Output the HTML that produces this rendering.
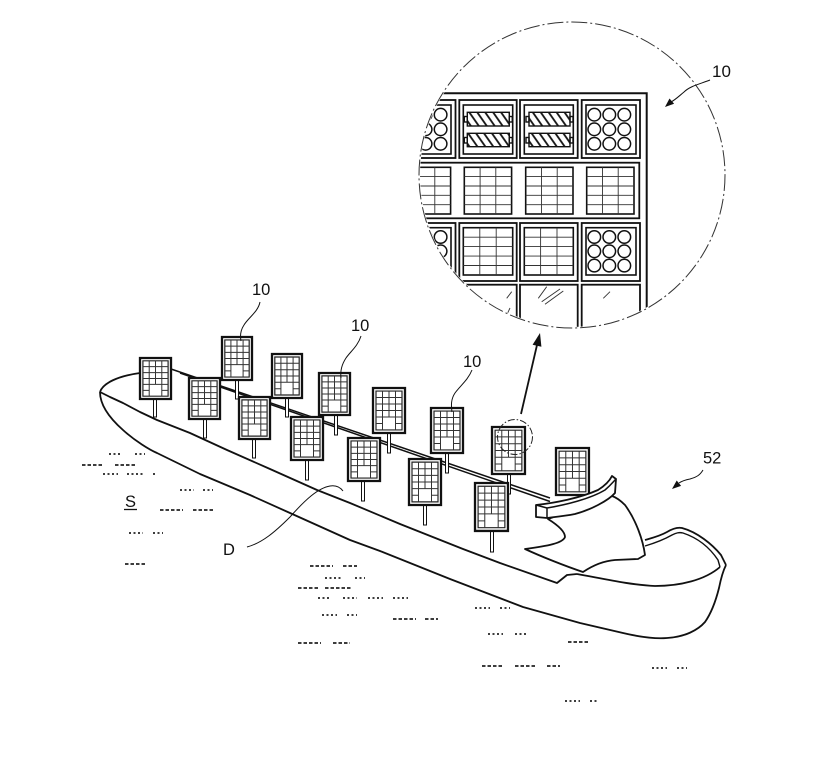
<!DOCTYPE html>
<html><head><meta charset="utf-8"><style>
html,body{margin:0;padding:0;background:#fff;}
svg{display:block;}
text{font-family:"Liberation Sans",sans-serif;fill:#111;}
</style></head><body>
<svg width="831" height="768" viewBox="0 0 831 768" xmlns="http://www.w3.org/2000/svg">
<defs>
<g id="pn">
<rect x="0" y="0" width="32" height="44" fill="#fff" stroke="#111" stroke-width="2.3" vector-effect="non-scaling-stroke"/>
<rect x="3" y="3" width="26" height="38" fill="none" stroke="#222" stroke-width="1.2" vector-effect="non-scaling-stroke"/>
<path d="M9.5,3V41M22.5,3V41M16,3V28.3M3,9.3H29M3,15.7H29M3,22H29M3,28.3H29M3,34.7H9.5M22.5,34.7H29" fill="none" stroke="#333" stroke-width="1" vector-effect="non-scaling-stroke"/>
</g>
<pattern id="hatch" patternUnits="userSpaceOnUse" width="6.5" height="10" patternTransform="rotate(-35)">
<rect width="6.5" height="10" fill="#fff"/>
<line x1="1.5" y1="0" x2="1.5" y2="10" stroke="#111" stroke-width="1.8"/>
</pattern>
<clipPath id="cc"><circle cx="572" cy="175" r="152"/></clipPath>
</defs>
<rect width="831" height="768" fill="#fff"/>

<!-- water marks -->
<g stroke="#222" stroke-width="1.7" fill="none">
<g stroke-dasharray="2 2.5">
<path d="M109,454H122M135,454H145"/>
<path d="M103,474H118M127,474H143M153,474H156"/>
<path d="M180,490H194M203,490H213"/>
<path d="M129,533H143M153,533H163"/>
<path d="M325,578H343M355,578H365"/>
<path d="M318,598H330M343,598H357M368,598H383M393,598H408"/>
<path d="M475,608H490M500,608H510"/>
<path d="M322,615H337M347,615H357"/>
<path d="M488,634H503M515,634H528"/>
<path d="M652,668H667M677,668H687"/>
<path d="M565,701H580M590,701H598"/>
</g>
<g stroke-dasharray="3.5 2">
<path d="M82,465H104M115,465H135"/>
<path d="M160,510H183M193,510H213"/>
<path d="M125,564H147"/>
<path d="M310,566H333M343,566H357"/>
<path d="M298,588H318M325,588H352"/>
<path d="M393,619H416M425,619H438"/>
<path d="M298,643H321M333,643H350"/>
<path d="M568,642H590"/>
<path d="M482,666H503M515,666H536M547,666H560"/>
</g>
</g>

<!-- hull -->
<g fill="none" stroke="#111" stroke-width="1.8" stroke-linejoin="round">
<path d="M100,392 C100,402 106,415 123,430 C135,441 150,450 157,453 L200,474 L250,495 L290,513 L350,540 L380,551 L450,579 L523,607 L580,623 L623,633 C640,637 655,639 667,638 C685,637 698,630 705,622 C712,612 716,600 719,588 C721,578 723,571 726,565"/>
<path d="M100,392 L110,397 L123,403 L140,412 L157,420 L190,433 L227,450 L270,469 L317,490 L350,503 L400,524 L463,549 L500,563 L557,583 L567,575 L577,574"/>
<path d="M100,392 C103,383 118,376 140,373 L171,369"/>
<path d="M171,369 L550,498" stroke-width="1.5"/>
<path d="M180,373 L550,501.5" stroke-width="1.5"/>
<path d="M645,540 C652,538 660,536 667,532 C672,529 677,527 682,528 C697,532 712,544 721,555 L726,565"/>
<path d="M645,546 C655,543 665,539 672,535 C676,533 679,532 683,533 C698,538 710,548 718,560 L720,567" stroke-width="1.4"/>
<path d="M577,574 C600,578 630,585 655,586 C680,586 705,580 720,567"/>
</g>

<!-- panels far side -->
<g stroke="#111" stroke-width="1" fill="#fff">
<rect x="153.5" y="399" width="3" height="18"/>
<rect x="235.5" y="380" width="3" height="19"/>
<rect x="285.5" y="398" width="3" height="19"/>
<rect x="334.5" y="415" width="3" height="20"/>
<rect x="387.5" y="433" width="3" height="20"/>
<rect x="445.5" y="453" width="3" height="20"/>
<rect x="507.5" y="474" width="3" height="20"/>
</g>
<use href="#pn" transform="translate(140,358) scale(0.969,0.932)"/>
<use href="#pn" transform="translate(222,337) scale(0.9375,0.977)"/>
<use href="#pn" transform="translate(272,354) scale(0.9375,1)"/>
<use href="#pn" transform="translate(319,373) scale(0.969,0.955)"/>
<use href="#pn" transform="translate(373,388) scale(1,1.023)"/>
<use href="#pn" transform="translate(431,408) scale(1,1.023)"/>
<use href="#pn" transform="translate(492,427) scale(1.03,1.068)"/>
<use href="#pn" transform="translate(556,448) scale(1.03,1.068)"/>

<!-- panels near side -->
<g stroke="#111" stroke-width="1" fill="#fff">
<rect x="203.5" y="419" width="3" height="19"/>
<rect x="252.5" y="439" width="3" height="19"/>
<rect x="305.5" y="460" width="3" height="20"/>
<rect x="361.5" y="481" width="3" height="20"/>
<rect x="423.5" y="505" width="3" height="20"/>
<rect x="490.5" y="531" width="3" height="21"/>
</g>
<use href="#pn" transform="translate(189,378) scale(0.969,0.932)"/>
<use href="#pn" transform="translate(239,397) scale(0.969,0.955)"/>
<use href="#pn" transform="translate(291,417) scale(1,0.977)"/>
<use href="#pn" transform="translate(348,438) scale(1,0.977)"/>
<use href="#pn" transform="translate(409,459) scale(1,1.045)"/>
<use href="#pn" transform="translate(475,483) scale(1.03,1.09)"/>

<!-- superstructure -->
<g stroke="#111" stroke-width="1.8" fill="#fff" stroke-linejoin="round">
<path d="M548,519 C556,524 565,531 565,537 C563,543 548,546 525,549 C540,556 565,566 583,572 C592,566 602,561 615,560 L638,559 L645,555 C643,540 636,520 625,505 C620,500 615,497 612,496 Z"/>
<path d="M536,505 C555,503 580,498 598,490 C606,485 610,480 612,476 L616,479 L615,493 C608,501 590,510 575,514 C565,516 555,517 547,518 L536,517 Z"/>
<path d="M536,505 L547,508 C565,505 590,499 605,490 C611,485 614,481 616,479 M547,508 L547,518" fill="none" stroke-width="1.5"/>
</g>

<!-- small dash-dot circle -->
<circle cx="515" cy="437" r="17.5" fill="none" stroke="#222" stroke-width="1" stroke-dasharray="7 2 1.5 2"/>

<!-- main arrow -->
<line x1="521" y1="414" x2="537" y2="345" stroke="#111" stroke-width="1.8"/>
<polygon points="540,333 541.4,346.7 532.6,344.7" fill="#111"/>

<!-- leaders -->
<g fill="none" stroke="#111" stroke-width="1">
<path d="M260,302 C258,312 248,318 244,325 C240,331 240,336 241,341"/>
<path d="M361,336 C358,346 350,352 346,358 C342,364 340,370 341,378"/>
<path d="M472,370 C468,380 460,386 455,393 C451,399 451,405 452,412"/>
<path d="M247,547 C262,543 275,532 290,517 C305,500 318,488 330,486 C336,485 340,487 343,491"/>
<path d="M703,470 C700,475 697,477 690,479 C685,480 682,481 679,483"/>
</g>
<polygon points="672,489 681.1,485.9 676.7,480.5" fill="#111"/>

<!-- labels -->
<text x="252" y="295" font-size="16.5">10</text>
<text x="351" y="331" font-size="16.5">10</text>
<text x="463" y="367" font-size="16.5">10</text>
<text x="703" y="463.5" font-size="16.5">52</text>
<text x="223" y="555" font-size="16.5">D</text>
<text x="125" y="507" font-size="16.5">S</text>
<line x1="124" y1="509.5" x2="137" y2="509.5" stroke="#111" stroke-width="1.3"/>

<!-- magnified circle -->
<circle cx="572" cy="175" r="153" fill="#fff"/>
<g clip-path="url(#cc)" fill="none" stroke="#111">
<path d="M400,93.3 H646.7 V340" stroke-width="2"/>
<!-- row1 -->
<g stroke-width="1.8">
<rect x="398" y="100" width="57.5" height="58"/>
<rect x="459.3" y="100" width="57.4" height="58"/>
<rect x="520" y="100" width="57.7" height="58"/>
<rect x="581.7" y="100" width="58.3" height="58"/>
</g>
<g stroke-width="1.6">
<rect x="402" y="105" width="49" height="49"/>
<rect x="463.3" y="105" width="49.4" height="49"/>
<rect x="524.3" y="105" width="49" height="49"/>
<rect x="586" y="105" width="50" height="49"/>
</g>
<!-- cylinders -->
<g stroke-width="1.4">
<rect x="467.3" y="112.3" width="42" height="13.7" fill="url(#hatch)"/>
<rect x="467.3" y="133.3" width="42" height="13.4" fill="url(#hatch)"/>
<rect x="529" y="112.3" width="41" height="13.7" fill="url(#hatch)"/>
<rect x="529" y="133.3" width="41" height="13.4" fill="url(#hatch)"/>
<rect x="464.3" y="116.5" width="3" height="5.5"/>
<rect x="509.3" y="116.5" width="3" height="5.5"/>
<rect x="464.3" y="137.5" width="3" height="5.5"/>
<rect x="509.3" y="137.5" width="3" height="5.5"/>
<rect x="526" y="116.5" width="3" height="5.5"/>
<rect x="570" y="116.5" width="3" height="5.5"/>
<rect x="526" y="137.5" width="3" height="5.5"/>
<rect x="570" y="137.5" width="3" height="5.5"/>
</g>
<!-- circles -->
<g stroke-width="1.5">
<circle cx="410.6" cy="114.7" r="6.3"/><circle cx="425.6" cy="114.7" r="6.3"/><circle cx="440.6" cy="114.7" r="6.3"/>
<circle cx="410.6" cy="129.3" r="6.3"/><circle cx="425.6" cy="129.3" r="6.3"/><circle cx="440.6" cy="129.3" r="6.3"/>
<circle cx="410.6" cy="143.8" r="6.3"/><circle cx="425.6" cy="143.8" r="6.3"/><circle cx="440.6" cy="143.8" r="6.3"/>
<circle cx="594.3" cy="114.7" r="6.3"/><circle cx="609.3" cy="114.7" r="6.3"/><circle cx="624.3" cy="114.7" r="6.3"/>
<circle cx="594.3" cy="129.3" r="6.3"/><circle cx="609.3" cy="129.3" r="6.3"/><circle cx="624.3" cy="129.3" r="6.3"/>
<circle cx="594.3" cy="143.8" r="6.3"/><circle cx="609.3" cy="143.8" r="6.3"/><circle cx="624.3" cy="143.8" r="6.3"/>
<circle cx="410.6" cy="237" r="6.3"/><circle cx="425.6" cy="237" r="6.3"/><circle cx="440.6" cy="237" r="6.3"/>
<circle cx="410.6" cy="251.3" r="6.3"/><circle cx="425.6" cy="251.3" r="6.3"/><circle cx="440.6" cy="251.3" r="6.3"/>
<circle cx="410.6" cy="265.6" r="6.3"/><circle cx="425.6" cy="265.6" r="6.3"/><circle cx="440.6" cy="265.6" r="6.3"/>
<circle cx="594.3" cy="237" r="6.3"/><circle cx="609.3" cy="237" r="6.3"/><circle cx="624.3" cy="237" r="6.3"/>
<circle cx="594.3" cy="251.3" r="6.3"/><circle cx="609.3" cy="251.3" r="6.3"/><circle cx="624.3" cy="251.3" r="6.3"/>
<circle cx="594.3" cy="265.6" r="6.3"/><circle cx="609.3" cy="265.6" r="6.3"/><circle cx="624.3" cy="265.6" r="6.3"/>
</g>
<!-- row2 -->
<rect x="390" y="162.7" width="249.3" height="55.6" stroke-width="1.8"/>
<g stroke-width="1.6">
<rect x="403.3" y="167.3" width="47.3" height="46.7"/>
<rect x="464.3" y="167.3" width="47.3" height="46.7"/>
<rect x="525.7" y="167.3" width="47.3" height="46.7"/>
<rect x="586.7" y="167.3" width="47.3" height="46.7"/>
</g>
<g stroke-width="0.9" stroke="#333">
<path d="M419.1,167.3V214M434.8,167.3V214M403.3,176.6H450.6M403.3,186H450.6M403.3,195.3H450.6M403.3,204.7H450.6"/>
<path d="M480.1,167.3V214M495.8,167.3V214M464.3,176.6H511.6M464.3,186H511.6M464.3,195.3H511.6M464.3,204.7H511.6"/>
<path d="M541.5,167.3V214M557.2,167.3V214M525.7,176.6H573M525.7,186H573M525.7,195.3H573M525.7,204.7H573"/>
<path d="M602.5,167.3V214M618.2,167.3V214M586.7,176.6H634M586.7,186H634M586.7,195.3H634M586.7,204.7H634"/>
</g>
<!-- row3 -->
<g stroke-width="1.8">
<rect x="398" y="223" width="57.5" height="58"/>
<rect x="459.3" y="223" width="57.4" height="58"/>
<rect x="520" y="223" width="57.7" height="58"/>
<rect x="581.7" y="223" width="58.3" height="58"/>
</g>
<g stroke-width="1.6">
<rect x="402" y="227.7" width="49" height="47.3"/>
<rect x="463.3" y="227.7" width="49.4" height="47.3"/>
<rect x="524.3" y="227.7" width="49" height="47.3"/>
<rect x="586" y="227.7" width="50" height="47.3"/>
</g>
<g stroke-width="0.9" stroke="#333">
<path d="M479.8,227.7V275M496.2,227.7V275M463.3,237.2H512.7M463.3,246.6H512.7M463.3,256.1H512.7M463.3,265.5H512.7"/>
<path d="M540.6,227.7V275M557,227.7V275M524.3,237.2H573.3M524.3,246.6H573.3M524.3,256.1H573.3M524.3,265.5H573.3"/>
</g>
<!-- row4 -->
<g stroke-width="1.8">
<rect x="398" y="284.7" width="57.5" height="70"/>
<rect x="459.3" y="284.7" width="57.4" height="70"/>
<rect x="520" y="284.7" width="57.7" height="70"/>
<rect x="581.7" y="284.7" width="58.3" height="70"/>
</g>
<g stroke-width="0.9" stroke="#333">
<path d="M506.7,298.3L511.7,291.7M510,308L506.7,315M538.3,298.3L546.7,286.7M541.7,301.7L560,289M545,304.3L563.3,291M603.3,298.3L610,291.7"/>
</g>
</g>
<circle cx="572" cy="175" r="153" fill="none" stroke="#333" stroke-width="1" stroke-dasharray="16 3 2 3"/>

<!-- circle label leader (drawn over circle) -->
<path d="M710,80 C700,84 690,86 684,92 C678,97 675,100 671,102" fill="none" stroke="#111" stroke-width="1"/>
<polygon points="665,107 674.1,103.7 669.5,98.5" fill="#111"/>
<text x="712" y="77" font-size="17">10</text>
</svg>
</body></html>
